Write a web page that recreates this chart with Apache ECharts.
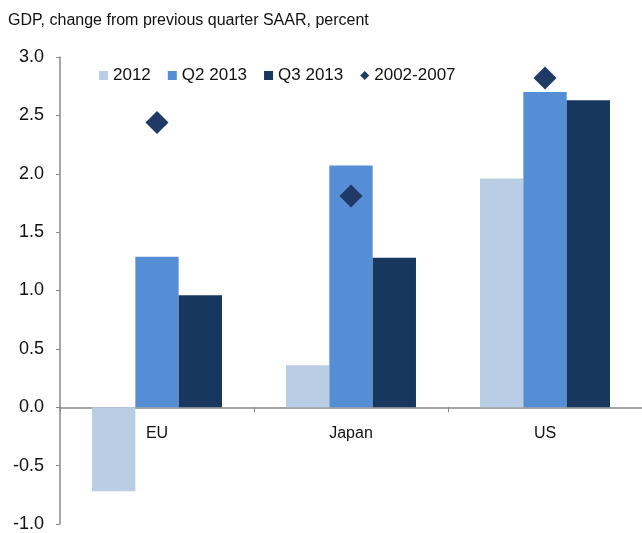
<!DOCTYPE html>
<html>
<head>
<meta charset="utf-8">
<script src="https://cdn.jsdelivr.net/npm/echarts@6/dist/echarts.min.js"></script>
<style>
  html, body { margin: 0; padding: 0; background: #fff; }
  #chart { width: 642px; height: 533px; }
</style>
</head>
<body>
<div id="chart"></div>
<script>
// regions on the x axis
const regions = ['EU', 'Japan', 'US'];
// GDP change, SAAR percent
const y2012 = [-0.72, 0.36, 1.96];
const q2_2013 = [1.29, 2.07, 2.70];
const q3_2013 = [0.96, 1.28, 2.63];
const avg2002_2007 = [2.44, 1.81, 2.82];

const chart = echarts.init(document.getElementById('chart'));
const font = 'Liberation Sans, Arial, sans-serif';

chart.setOption({
  animation: false,
  textStyle: { fontFamily: font },
  title: {
    text: 'GDP, change from previous quarter SAAR, percent',
    left: 3, top: 8,
    textStyle: { fontSize: 16, fontWeight: 'normal', color: '#111', fontFamily: font }
  },
  legend: {
    top: 62, left: 94,
    itemWidth: 9, itemHeight: 9, itemGap: 17,
    textStyle: { fontSize: 17, color: '#111', fontFamily: font },
    data: [
      { name: '2012', icon: 'rect' },
      { name: 'Q2 2013', icon: 'rect' },
      { name: 'Q3 2013', icon: 'rect' },
      { name: '2002-2007', icon: 'diamond' }
    ]
  },
  grid: { left: 60, right: 0, top: 57, bottom: 9, outerBoundsMode: 'none', containLabel: false },
  xAxis: {
    type: 'category',
    data: regions,
    axisLine: { onZero: true, lineStyle: { color: '#888', width: 1.5 } },
    axisTick: { show: true, length: 5, lineStyle: { color: '#888' } },
    // labels sit just under the zero line, not at the grid bottom
    axisLabel: { fontSize: 16, color: '#111', margin: -98 }
  },
  yAxis: {
    type: 'value',
    min: -1, max: 3, interval: 0.5,
    splitLine: { show: false },
    axisLine: { show: true, lineStyle: { color: '#888', width: 1.5 } },
    axisTick: { show: true, length: 4, lineStyle: { color: '#888' } },
    axisLabel: { fontSize: 18, color: '#111', margin: 16, formatter: v => v.toFixed(1) }
  },
  series: [
    { name: '2012', type: 'bar', data: y2012, barGap: '0%', barCategoryGap: '33%',
      itemStyle: { color: '#b9cde5' } },
    { name: 'Q2 2013', type: 'bar', data: q2_2013, itemStyle: { color: '#558ed5' } },
    { name: 'Q3 2013', type: 'bar', data: q3_2013, itemStyle: { color: '#17375e' } },
    { name: '2002-2007', type: 'scatter', data: avg2002_2007, symbol: 'diamond',
      symbolSize: 23, itemStyle: { color: '#1f3a64', opacity: 1 } }
  ]
});
</script>
</body>
</html>
